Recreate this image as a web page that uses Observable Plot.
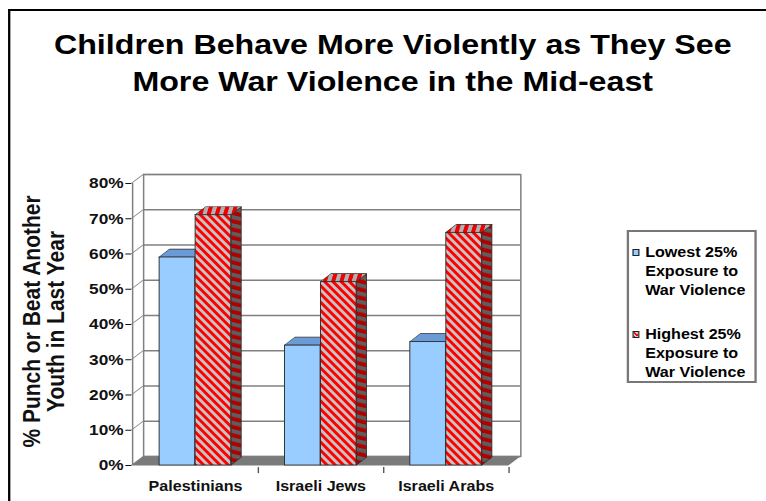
<!DOCTYPE html>
<html>
<head>
<meta charset="utf-8">
<script src="https://cdn.jsdelivr.net/npm/d3@7"></script>
<script src="https://cdn.jsdelivr.net/npm/@observablehq/plot@0.6"></script>
<style>
  html, body { margin: 0; padding: 0; background: #fff; overflow: hidden; }
  #stage { position: relative; width: 666px; height: 501px; transform: scaleX(1.15); transform-origin: 0 0;
           font-family: "Liberation Sans", Arial, sans-serif; }
  #frameBorder { position: absolute; left: 6.8px; top: 9px; width: 720px; height: 560px;
                 border-left: 2.6px solid #000; border-top: 2.6px solid #000; }
  #title { position: absolute; left: 0; top: 26px; width: 683px; text-align: center; font-size: 28px;
           font-weight: bold; line-height: 37px; color: #000; white-space: nowrap; }
  #plot { position: absolute; left: 0; top: 0; }
  #legend { position: absolute; left: 545px; top: 230px; width: 113px; height: 153px; box-sizing: border-box;
            border: 2px solid #777; background: #fff; }
  .lg-text { position: absolute; left: 14px; font-size: 14px; font-weight: bold; line-height: 19px; color: #000; white-space: nowrap; }
  .lg-sw { position: absolute; left: 2.6px; width: 6px; height: 7px; box-sizing: border-box; border: 1px solid #222; }
</style>
</head>
<body>
<div id="stage">
  <div id="frameBorder"></div>
  <div id="title"></div>
  <div id="plot"></div>
  <div id="legend"></div>
</div>
<script>
// ---------- data ----------
const categories = ["Palestinians", "Israeli Jews", "Israeli Arabs"];
const lowestValues = [59, 34, 35];
const highestValues = [71, 52, 66];
const seriesNames = ["Lowest 25% Exposure to War Violence", "Highest 25% Exposure to War Violence"];
const legendLines = [["Lowest 25%", "Exposure to", "War Violence"], ["Highest 25%", "Exposure to", "War Violence"]];
const yTicks = [0, 10, 20, 30, 40, 50, 60, 70, 80];
const titleLines = ["Children Behave More Violently as They See", "More War Violence in the Mid-east"];
const yTitleLines = ["% Punch or Beat Another", "Youth in Last Year"];

const lowRows = categories.map((c, i) => ({category: c, series: seriesNames[0], value: lowestValues[i]}));
const highRows = categories.map((c, i) => ({category: c, series: seriesNames[1], value: highestValues[i]}));

// ---------- layout ----------
const W = 666, H = 501, mL = 114, mR = 224, mT = 183, mB = 36;
const fw = W - mL - mR, bw = fw / categories.length;
const barW = 31.3, pad = bw / 2 - barW;
const depthX = 9.1, depthY = 8;     // bar depth
const wallX = 10.4, wallY = 9;      // wall depth
const gridColor = "#808080";
const outline = "#2a2a2a";

document.getElementById("title").innerHTML = titleLines.join("<br>");

const chart = Plot.plot({
  width: W, height: H,
  marginLeft: mL, marginRight: mR, marginTop: mT, marginBottom: mB,
  style: {background: "transparent", color: "#111", fontFamily: "Liberation Sans, Arial, sans-serif"},
  x: {type: "band", domain: categories, padding: 0, label: null},
  y: {domain: [0, 80], label: null},
  color: {type: "ordinal", domain: seriesNames, range: ["#99ccff", "url(#hatchFront)"]},
  marks: [
    // back wall
    Plot.frame({dx: wallX, dy: -wallY, stroke: gridColor, strokeWidth: 1.3, fill: "white"}),
    Plot.ruleY(yTicks, {dx: wallX, dy: -wallY, stroke: gridColor, strokeWidth: 1.3}),
    // left wall connectors
    Plot.ruleY(yTicks, {insetRight: fw - wallX, stroke: gridColor, strokeWidth: 1.2, className: "wall-connector"}),
    // floor
    Plot.ruleY([0], {stroke: "#7a7a7a", strokeWidth: wallY, dy: -wallY / 2, className: "floor-slab"}),
    // front axis line
    Plot.ruleX([categories[0]], {x: d => d, y1: 0, y2: 80, dx: -bw / 2, stroke: gridColor, strokeWidth: 1.3}),
    // category separators below floor
    Plot.ruleX(categories, {x: d => d, y1: -0.6, y2: -2.3, dx: bw / 2, stroke: "#555", strokeWidth: 1.2}),
    // blue caps
    Plot.barY(lowRows, {x: "category", y1: "value", y2: "value", insetTop: -depthY, insetLeft: pad, insetRight: bw / 2,
      fill: "#6a9bd6", stroke: outline, strokeWidth: 0.7, className: "low-cap"}),
    // blue fronts
    Plot.barY(lowRows, {x: "category", y: "value", fill: "series", insetLeft: pad, insetRight: bw / 2,
      stroke: outline, strokeWidth: 0.8}),
    // red sides
    Plot.barY(highRows, {x: "category", y: "value", insetLeft: bw / 2 + barW, insetRight: bw / 2 - barW - depthX,
      fill: "#666", stroke: outline, strokeWidth: 0.7, className: "high-side"}),
    // red caps
    Plot.barY(highRows, {x: "category", y1: "value", y2: "value", insetTop: -depthY, insetLeft: bw / 2, insetRight: bw / 2 - barW,
      fill: "#aaa", stroke: outline, strokeWidth: 0.7, className: "high-cap"}),
    // red fronts
    Plot.barY(highRows, {x: "category", y: "value", fill: "series", insetLeft: bw / 2, insetRight: pad,
      stroke: outline, strokeWidth: 0.8}),
    // axes
    Plot.axisY({ticks: yTicks, tickFormat: d => `${d}%`, tickSize: 5, tickPadding: 2, fontSize: 15, fontWeight: "bold", label: null}),
    Plot.axisX({tickSize: 0, tickPadding: 16, fontSize: 14, fontWeight: "bold", label: null}),
    // y title
    Plot.text([yTitleLines.join("\n")], {text: d => d, frameAnchor: "left", textAnchor: "middle", lineAnchor: "middle",
      rotate: -90, dx: -76, dy: -3, fontSize: 21, fontWeight: "bold", lineHeight: 1.0, fill: "#111"})
  ]
});

document.getElementById("plot").appendChild(chart);

// ---------- patterns & 3D faces ----------
const svg = d3.select(chart);
const defs = svg.insert("defs", ":first-child");
function hatch(id, bg, fg, size) {
  const p = defs.append("pattern").attr("id", id).attr("patternUnits", "userSpaceOnUse")
    .attr("width", size).attr("height", size).attr("patternTransform", "rotate(-41)");
  p.append("rect").attr("width", size).attr("height", size).attr("fill", bg);
  p.append("rect").attr("width", size / 2).attr("height", size).attr("fill", fg);
}
hatch("hatchFront", "#c4c4c4", "#ff0000", 5.4);
hatch("hatchSide", "#5e5e5e", "#b00000", 5.4);
hatch("hatchCap", "#b0b0b0", "#f00000", 5.4);

svg.selectAll(".high-side").attr("fill", "url(#hatchSide)");
svg.selectAll(".high-cap").attr("fill", "url(#hatchCap)");

function skew(sel, origin, tf) {
  sel.style("transform-box", "fill-box").style("transform-origin", origin).style("transform", tf);
}
const deg = r => r * 180 / Math.PI;
skew(svg.selectAll(".high-side rect"), "left center", `skewY(${-deg(Math.atan(depthY / depthX))}deg)`);
skew(svg.selectAll(".low-cap rect, .high-cap rect"), "center bottom", `skewX(${-deg(Math.atan(depthX / depthY))}deg)`);
skew(svg.selectAll(".wall-connector line"), "left center", `skewY(${-deg(Math.atan(wallY / wallX))}deg)`);
skew(svg.selectAll(".floor-slab line"), "center center", `translateX(${wallX / 2}px) skewX(${-deg(Math.atan(wallX / wallY))}deg)`);

// ---------- legend ----------
const legend = document.getElementById("legend");
const legendTops = [20, 102];
const swatchFills = ["#99ccff", "repeating-linear-gradient(45deg, #ff0000 0 1.4px, #c4c4c4 1.4px 2.8px)"];
legendLines.forEach((lines, k) => {
  const sw = document.createElement("div");
  sw.className = "lg-sw";
  sw.style.top = (legendTops[k] - 3.5) + "px";
  sw.style.background = swatchFills[k];
  legend.appendChild(sw);
  const tx = document.createElement("div");
  tx.className = "lg-text";
  tx.style.top = (legendTops[k] - 9.5) + "px";
  tx.innerHTML = lines.join("<br>");
  legend.appendChild(tx);
});
</script>
</body>
</html>
